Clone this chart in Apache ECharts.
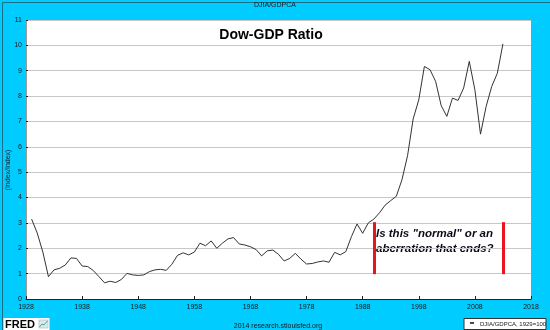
<!DOCTYPE html>
<html>
<head>
<meta charset="utf-8">
<script src="https://cdn.jsdelivr.net/npm/echarts@6/dist/echarts.min.js"></script>
<style>
html,body{margin:0;padding:0;background:#00CCFF;}
#c{width:550px;height:330px;}
</style>
</head>
<body>
<div id="c"></div>
<script>
// ---- data ----
const axisStartYear = 1928;
const axisEndYear = 2018;
const years = [1929,1930,1931,1932,1933,1934,1935,1936,1937,1938,1939,1940,1941,1942,1943,1944,1945,1946,1947,1948,1949,
  1950,1951,1952,1953,1954,1955,1956,1957,1958,1959,1960,1961,1962,1963,1964,1965,1966,1967,1968,1969,
  1970,1971,1972,1973,1974,1975,1976,1977,1978,1979,1980,1981,1982,1983,1984,1985,1986,1987,1988,1989,
  1990,1991,1992,1993,1994,1995,1996,1997,1998,1999,2000,2001,2002,2003,2004,2005,2006,2007,2008,2009,
  2010,2011,2012,2013];
const ratio = [3.15,2.6,1.85,0.88,1.15,1.21,1.34,1.62,1.6,1.3,1.28,1.12,0.88,0.64,0.7,0.65,0.77,1.01,0.95,0.93,0.95,
  1.08,1.15,1.17,1.13,1.37,1.72,1.82,1.74,1.85,2.2,2.1,2.29,2.0,2.2,2.37,2.42,2.17,2.13,2.06,1.95,
  1.7,1.9,1.93,1.76,1.5,1.6,1.8,1.57,1.38,1.4,1.46,1.5,1.45,1.84,1.74,1.87,2.46,2.96,2.59,3.0,
  3.15,3.4,3.7,3.88,4.05,4.7,5.65,7.1,7.85,9.17,9.04,8.58,7.62,7.2,7.92,7.83,8.32,9.37,8.25,6.5,
  7.59,8.38,8.9,10.06];
const yTicks = {min: 0, max: 11, step: 1};
const bracketYears = ['1990', '2013'];
const bracketRange = [0.98, 3.03];
const chartTitle = 'Dow-GDP Ratio';
const topTitle = 'DJIA/GDPCA';
const yName = '(Index/Index)';
const legendLabel = 'DJIA/GDPCA, 1929=100';
const sourceText = '2014 research.stlouisfed.org';
const noteLines = ['Is this "normal" or an', 'aberration that ends?'];

// ---- build ----
const categories = [];
for (let y = axisStartYear; y <= axisEndYear; y++) categories.push(String(y));
const seriesData = years.map((y, i) => [String(y), ratio[i]]);

const chart = echarts.init(document.getElementById('c'), null, {renderer: 'canvas'});
const small = {fontFamily: 'Liberation Sans', fontSize: 7, color: '#1a1a1a'};

chart.setOption({
  backgroundColor: '#00CCFF',
  animation: false,
  grid: {left: 26, right: 19, top: 20, bottom: 31, containLabel: false, show: true, backgroundColor: '#ffffff', borderWidth: 0},
  xAxis: {
    type: 'category',
    data: categories,
    boundaryGap: false,
    axisLine: {show: true, lineStyle: {color: '#222', width: 1}},
    axisTick: {show: true, inside: true, length: 3, interval: 9, lineStyle: {color: '#222'}},
    axisLabel: Object.assign({interval: 9, margin: 5, showMaxLabel: true}, small),
    splitLine: {show: false}
  },
  yAxis: {
    type: 'value',
    min: yTicks.min, max: yTicks.max, interval: yTicks.step,
    axisLine: {show: true, lineStyle: {color: '#9a9a9a', width: 1}},
    axisTick: {show: true, inside: true, length: 2, lineStyle: {color: '#222'}},
    axisLabel: Object.assign({margin: 4}, small),
    splitLine: {show: true, lineStyle: {color: '#c8c8c8', width: 1}}
  },
  series: [{
    type: 'line',
    data: seriesData,
    showSymbol: false,
    symbol: 'none',
    lineStyle: {color: '#333', width: 1},
    markLine: {
      silent: true,
      symbol: ['none', 'none'],
      label: {show: false},
      lineStyle: {color: '#E8141E', width: 3, type: 'solid'},
      data: bracketYears.map(y => [{coord: [y, bracketRange[0]]}, {coord: [y, bracketRange[1]]}])
    }
  }],
  graphic: [
    {type: 'rect', left: 0, top: 0, shape: {width: 549, height: 329}, style: {fill: 'none', stroke: '#1b6f8c', lineWidth: 1}, silent: true},
    {type: 'text', left: 'center', top: 2, style: {text: topTitle, font: '7px "Liberation Sans"', fill: '#1a1a1a'}},
    {type: 'text', x: 271, y: 35, style: {text: chartTitle, font: 'bold 14px "Liberation Sans"', fill: '#000', align: 'center', verticalAlign: 'middle'}},
    {type: 'text', x: 8, y: 170, rotation: Math.PI / 2, style: {text: yName, font: '7px "Liberation Sans"', fill: '#1a1a1a', align: 'center', verticalAlign: 'middle'}},
    {type: 'text', x: 376, y: 234, style: {text: noteLines[0], font: 'italic bold 11.5px "Liberation Sans"', fill: '#0a0a1a', verticalAlign: 'middle'}},
    {type: 'text', x: 376, y: 249, style: {text: noteLines[1], font: 'italic bold 11.5px "Liberation Sans"', fill: '#0a0a1a', verticalAlign: 'middle'}},
    // FRED logo
    {type: 'rect', shape: {x: 3.5, y: 318, width: 46, height: 12}, style: {fill: '#fff'}},
    {type: 'text', x: 5, y: 324.5, style: {text: 'FRED', font: 'bold 11px "Liberation Sans"', fill: '#000', verticalAlign: 'middle'}},
    {type: 'rect', shape: {x: 39, y: 320, width: 9, height: 8}, style: {fill: '#dde8f0', stroke: '#9ab', lineWidth: 0.5}},
    {type: 'polyline', shape: {points: [[39.5, 327], [42, 324], [44, 325], [47.5, 321]]}, style: {stroke: '#4a8', lineWidth: 1, fill: 'none'}},
    {type: 'text', x: 278, y: 326, style: {text: sourceText, font: '7px "Liberation Sans"', fill: '#1a1a1a', align: 'center', verticalAlign: 'middle'}},
    // legend box
    {type: 'rect', shape: {x: 464, y: 318.5, width: 82, height: 11}, style: {fill: '#fff', stroke: '#333', lineWidth: 1}},
    {type: 'line', shape: {x1: 470, y1: 323, x2: 474, y2: 323}, style: {stroke: '#111', lineWidth: 1.5}},
    {type: 'text', x: 480, y: 324, style: {text: legendLabel, font: '6px "Liberation Sans"', fill: '#1a1a1a', verticalAlign: 'middle'}}
  ]
});
</script>
</body>
</html>
